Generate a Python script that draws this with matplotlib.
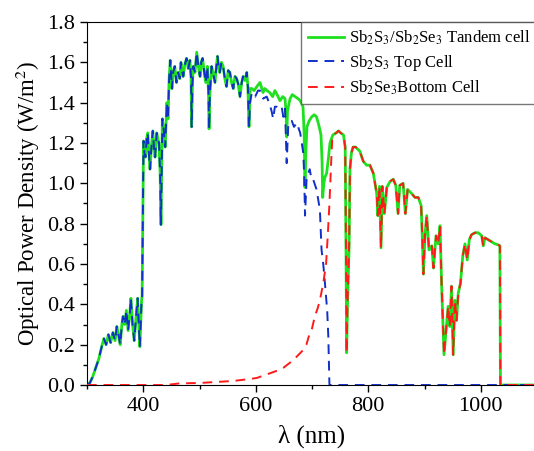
import numpy as np
import matplotlib
matplotlib.use('Agg')
import matplotlib.pyplot as plt

plt.rcParams['font.family'] = ['Liberation Serif', 'DejaVu Serif']
plt.rcParams['mathtext.fontset'] = 'stix'

# tandem cell (total) spectrum
wl_tandem = [300, 305, 310, 316, 321, 327, 330, 334, 338, 342,
             346, 350, 353, 356, 359, 362, 364, 367, 370, 373,
             376, 378, 381, 384, 387, 390, 392, 394, 397, 398,
             400.5, 402, 404, 406, 408, 410, 412, 415, 417, 419,
             421, 424, 426, 428, 430, 431.5, 433, 434, 437, 439,
             442, 444, 446, 448, 451, 453, 456, 459, 462, 465,
             467, 469, 471, 474, 477, 480, 483, 485, 486, 487.5,
             489, 492, 495, 498, 501, 503, 505.5, 508, 511, 514,
             516, 517, 518.5, 521.5, 524, 527.5, 530, 532, 534, 536,
             539, 542, 545, 548, 551, 554, 557, 560, 563, 566,
             569, 572, 575, 577.5, 581, 584, 586, 588, 590, 593,
             597, 602, 607.5, 613, 616, 620, 625, 630, 634, 638,
             643, 648, 652, 654, 655, 656.5, 661, 665, 670, 675,
             679, 684, 686, 687.5, 689, 691, 695, 699.5, 704, 708,
             712, 716, 718, 719, 721, 723, 726, 729, 732, 737,
             743, 747, 751, 756, 759, 760.5, 761.6, 763, 766, 767.5,
             770, 773, 777.6, 781, 785, 791, 797, 803, 809, 812,
             815, 817, 820, 822.7, 825, 828.6, 833, 839, 844.5, 849,
             853, 856, 862, 866, 870, 877, 883, 889, 894, 896,
             898, 901, 904, 908, 913, 916, 920.5, 924.5, 927.6, 930.5,
             934.7, 938, 942, 945, 948, 951, 954, 957, 960, 964,
             968, 972, 976, 979.6, 983.5, 989.6, 995.6, 1001.7, 1004.5, 1007.5,
             1013.5, 1019.5, 1025.3, 1031, 1034, 1035, 1100]
p_tandem = [0.0, 0.01, 0.04, 0.09, 0.13, 0.20, 0.23, 0.20, 0.25, 0.21,
            0.26, 0.22, 0.29, 0.25, 0.20, 0.30, 0.34, 0.30, 0.37, 0.27,
            0.35, 0.43, 0.30, 0.22, 0.33, 0.43, 0.30, 0.19, 0.42, 0.44,
            1.21, 1.15, 1.13, 1.22, 1.25, 1.15, 1.07, 1.20, 1.26, 1.18,
            1.13, 1.25, 1.22, 1.20, 1.05, 0.795, 1.10, 1.32, 1.25, 1.18,
            1.40, 1.32, 1.52, 1.61, 1.47, 1.55, 1.58, 1.50, 1.55, 1.52,
            1.60, 1.56, 1.53, 1.59, 1.62, 1.57, 1.61, 1.52, 1.28, 1.50,
            1.58, 1.55, 1.65, 1.58, 1.53, 1.60, 1.62, 1.56, 1.50, 1.58,
            1.45, 1.27, 1.45, 1.58, 1.55, 1.50, 1.58, 1.63, 1.58, 1.55,
            1.60, 1.58, 1.52, 1.48, 1.56, 1.55, 1.50, 1.47, 1.53, 1.52,
            1.49, 1.43, 1.50, 1.53, 1.51, 1.55, 1.48, 1.28, 1.47, 1.47,
            1.46, 1.48, 1.50, 1.45, 1.47, 1.46, 1.45, 1.43, 1.46, 1.44,
            1.41, 1.43, 1.42, 1.35, 1.23, 1.36, 1.42, 1.44, 1.43, 1.42,
            1.41, 1.38, 1.25, 0.98, 1.15, 1.28, 1.31, 1.33, 1.34, 1.33,
            1.29, 1.24, 1.10, 0.93, 1.00, 1.03, 1.05, 1.12, 1.20, 1.24,
            1.25, 1.26, 1.25, 1.24, 1.18, 0.65, 0.16, 0.39, 0.69, 1.07,
            1.15, 1.18, 1.18, 1.17, 1.16, 1.11, 1.09, 1.09, 1.05, 1.00,
            0.95, 0.84, 0.985, 0.68, 0.985, 0.85, 0.98, 1.01, 1.02, 0.99,
            0.85, 0.99, 1.00, 0.85, 0.97, 0.95, 0.93, 0.93, 0.89, 0.74,
            0.55, 0.75, 0.84, 0.67, 0.69, 0.58, 0.74, 0.70, 0.79, 0.49,
            0.15, 0.26, 0.39, 0.29, 0.49, 0.15, 0.42, 0.32, 0.455, 0.505,
            0.64, 0.70, 0.62, 0.72, 0.745, 0.755, 0.755, 0.74, 0.69, 0.73,
            0.72, 0.71, 0.70, 0.695, 0.69, 0.0, 0.0]

# top cell: follows the tandem curve up to 590 nm, then its own tail
top_split = 590
wl_top_tail = [590, 593, 599, 604, 607.5, 613, 619.5, 625, 628, 631,
               634, 637, 642, 646, 649, 652, 655, 658, 664, 668,
               673, 679, 684.5, 686, 687.6, 690.6, 696, 699, 702, 708,
               714, 717, 720, 723, 727, 729, 730, 731, 1100]
p_top_tail = [1.40, 1.45, 1.43, 1.46, 1.46, 1.42, 1.43, 1.39, 1.36, 1.32,
              1.38, 1.38, 1.37, 1.38, 1.33, 1.37, 1.10, 1.30, 1.31, 1.28,
              1.30, 1.25, 1.15, 1.05, 0.84, 1.035, 1.07, 1.02, 1.02, 0.97,
              0.87, 0.67, 0.60, 0.505, 0.37, 0.24, 0.11, 0.0, 0.0]

# bottom cell: its own head below 737 nm, then follows the tandem curve
bot_split = 737
wl_bot_head = [300, 440, 465, 500, 536, 560, 590, 602, 625, 642,
               649, 667, 684.5, 690, 696, 700, 705, 710, 714, 720,
               725, 728, 731, 734, 736]
p_bot_head = [0.0, 0.0, 0.008, 0.01, 0.016, 0.02, 0.03, 0.035, 0.058, 0.075,
              0.085, 0.124, 0.174, 0.20, 0.257, 0.28, 0.34, 0.38, 0.42, 0.505,
              0.60, 0.74, 0.90, 1.10, 1.22]

wl_t = np.array(wl_tandem)
p_t = np.array(p_tandem)
m_top = wl_t < top_split
wl_top = np.concatenate([wl_t[m_top], wl_top_tail])
p_top = np.concatenate([p_t[m_top], p_top_tail])
m_bot = wl_t >= bot_split
wl_bot = np.concatenate([wl_bot_head, wl_t[m_bot]])
p_bot = np.concatenate([p_bot_head, p_t[m_bot]])

fig = plt.figure(figsize=(5.34, 4.51), dpi=100)
ax = fig.add_axes([87/534, 66/451, 450/534, 363/451])

ax.plot(wl_t, p_t, color='#1ee01e', lw=2.0, label='Sb$_2$S$_3$/Sb$_2$Se$_3$ Tandem cell', zorder=2)
ax.plot(wl_top, p_top, color='#1030c8', lw=1.4, dashes=(5, 3.5),
        label='Sb$_2$S$_3$ Top Cell', zorder=3)
ax.plot(wl_bot, p_bot, color='#ff1a1a', lw=1.4, dashes=(5, 3.5),
        label='Sb$_2$Se$_3$Bottom Cell', zorder=4)

ax.set_xlim(300, 1100)
ax.set_ylim(0, 1.8)
ax.set_xticks([400, 600, 800, 1000])
ax.set_xticks(np.arange(300, 1101, 100), minor=True)
ax.set_yticks(np.arange(0, 1.81, 0.2))
ax.set_yticks(np.arange(0, 1.81, 0.1), minor=True)
ax.yaxis.set_major_formatter(matplotlib.ticker.FormatStrFormatter('%.1f'))
ax.tick_params(which='both', direction='out', top=False, right=False, labelsize=16, width=1)
ax.tick_params(which='major', length=5)
ax.tick_params(which='minor', length=3)

ax.set_xlabel('λ (nm)', fontsize=18, labelpad=6)
ax.set_ylabel('Optical Power Density (W/m$^2$)', fontsize=16.5, labelpad=4)

leg = ax.legend(loc='upper right', fontsize=12, frameon=True, fancybox=False,
                borderaxespad=0, handlelength=2.2, labelspacing=0.35,
                borderpad=0.4, handletextpad=0.25)
leg.get_frame().set_edgecolor('#555555')
leg.get_frame().set_linewidth(1.0)

fig.savefig('out.png', dpi=100)
